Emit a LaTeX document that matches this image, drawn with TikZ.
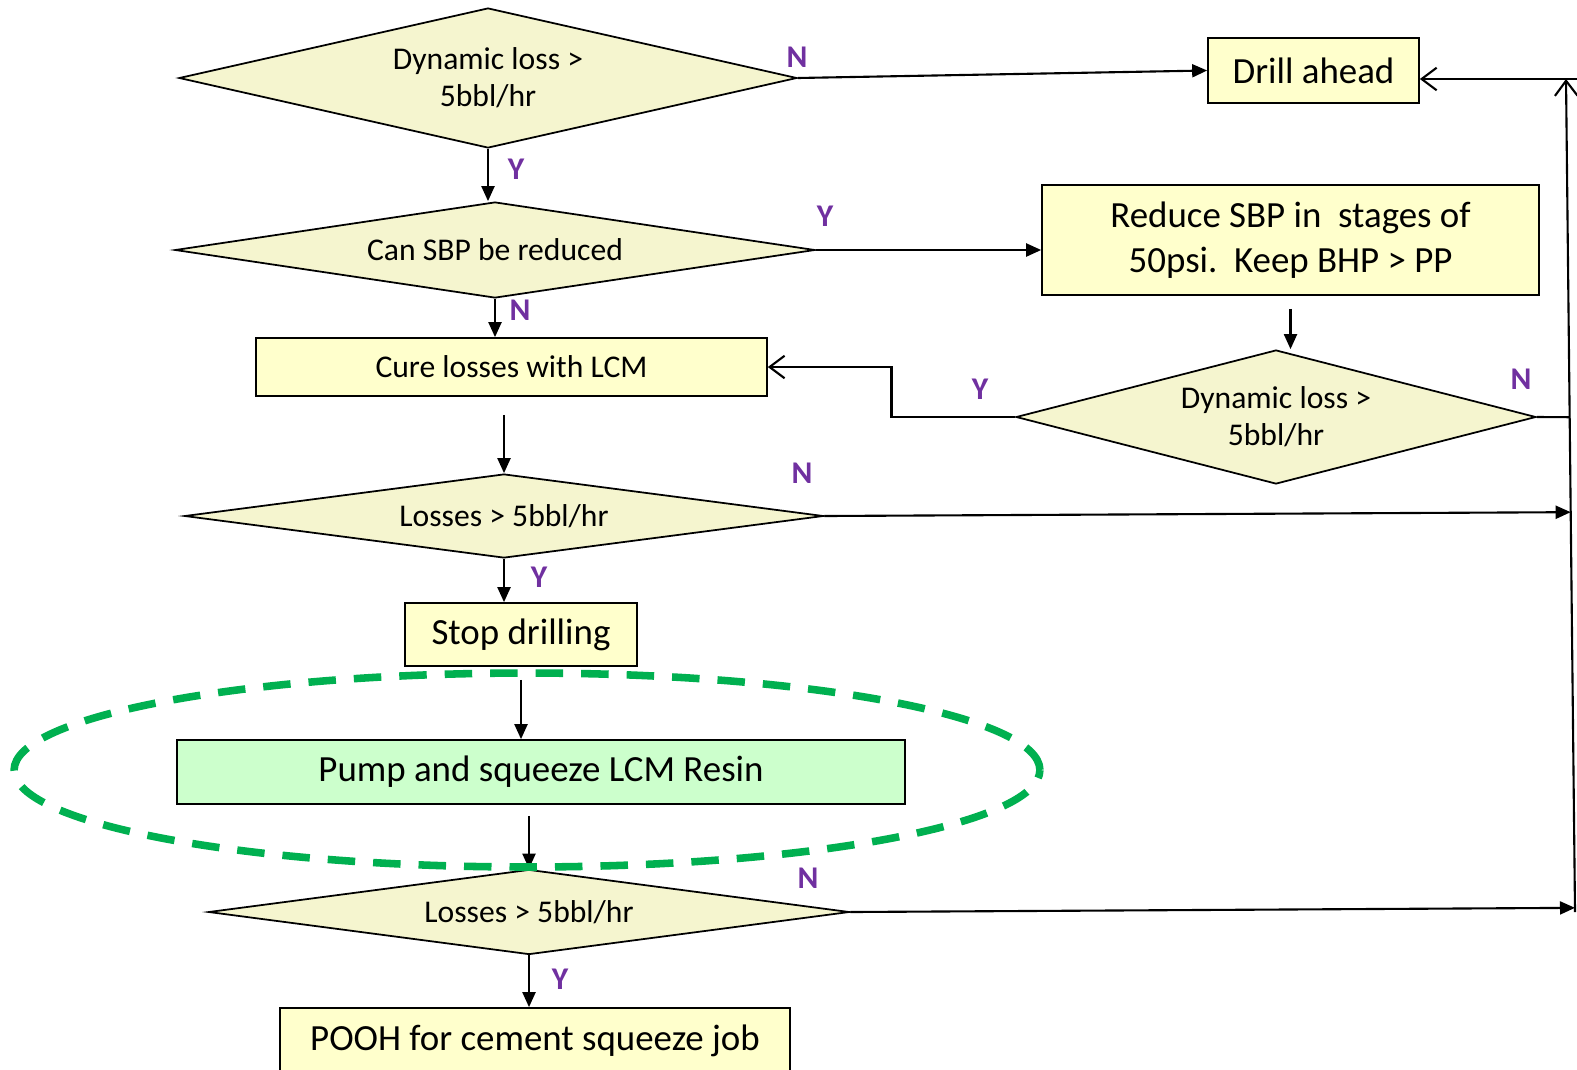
\documentclass[tikz,border=0pt]{standalone}
\usepackage{fontspec}
\setmainfont{Carlito}
\usetikzlibrary{shapes.geometric,arrows.meta,calc}
\definecolor{flowpurple}{HTML}{7030A0}
\definecolor{ringgreen}{HTML}{00B050}
\definecolor{boxyellow}{HTML}{FFFFCC}
\definecolor{diamondyellow}{RGB}{245,245,207}
\definecolor{boxgreen}{HTML}{CCFFCC}
\begin{document}
\begin{tikzpicture}[x=0.02cm,y=-0.02cm]
        \tikzstyle{decision_style} = [diamond,draw=black,fill=diamondyellow,line width=1pt,inner sep=0pt,align=center,font=\fontsize{18}{21}\selectfont]
        \tikzstyle{box_style} = [rectangle,draw=black,fill=boxyellow,line width=1pt,inner sep=0pt,align=center,font=\fontsize{21}{25.5}\selectfont]
        \tikzstyle{label_style} = [text=flowpurple,font=\fontsize{18}{20}\selectfont\bfseries]
        \tikzstyle{arrow_style} = [draw,line width=1.2pt,-{Triangle[length=0.3cm,width=0.26cm]}]
        \tikzstyle{open_arrow_style} = [draw,line width=1.2pt,-{Straight Barb[length=0.3cm,width=0.45cm]}]
        \useasboundingbox (0,0) rectangle (1577,1069);

        % decisions
        \node[decision_style,minimum width=12.36cm,minimum height=2.8cm,aspect=4.4] (dyn1) at (488,78) {Dynamic loss >\\5bbl/hr};
        \node[decision_style,minimum width=12.8cm,minimum height=1.92cm,aspect=6.7] (sbp) at (495,250) {Can SBP be reduced};
        \node[decision_style,minimum width=10.4cm,minimum height=2.68cm,aspect=3.9] (dyn2) at (1276,417) {Dynamic loss >\\5bbl/hr};
        \node[decision_style,minimum width=12.78cm,minimum height=1.68cm,aspect=7.6] (loss1) at (504,516) {Losses > 5bbl/hr};
        \node[decision_style,minimum width=12.82cm,minimum height=1.7cm,aspect=7.5] (loss2) at (529,912) {Losses > 5bbl/hr};

        % actions
        \node[box_style,minimum width=4.22cm,minimum height=1.3cm] (drill) at (1313.5,70.5) {Drill ahead};
        \node[box_style,minimum width=9.94cm,minimum height=2.2cm] (reduce) at (1290.5,240) {Reduce SBP in\ \ stages of\\50psi.\ \ Keep BHP > PP};
        \node[box_style,minimum width=10.22cm,minimum height=1.16cm,font=\fontsize{18}{21}\selectfont] (cure) at (511.5,367) {Cure losses with LCM};
        \node[box_style,minimum width=4.64cm,minimum height=1.26cm] (stop) at (521,634.5) {Stop drilling};
        \node[box_style,fill=boxgreen,minimum width=14.56cm,minimum height=1.28cm] (pump) at (541,772) {Pump and squeeze LCM Resin};
        \node[box_style,minimum width=10.2cm,minimum height=1.32cm] (pooh) at (535,1041) {POOH for cement squeeze job};

        \coordinate (top_corner) at (1566,79);
        \coordinate (bottom_corner) at (1575,912);
        \coordinate (top_right) at (1577,79);
        \coordinate (join_dyn2) at ($(top_corner)!0.406!(bottom_corner)$);
        \coordinate (join_loss1) at ($(top_corner)!0.52!(bottom_corner)$);
        \coordinate (join_loss2) at ($(top_corner)!0.995!(bottom_corner)$);

        % connectors
        \draw[arrow_style] (dyn1.east) -- (drill.west);
        \draw[arrow_style] (dyn1.south) -- (dyn1.south |- sbp.north);
        \draw[arrow_style] (sbp.east) -- (sbp.east -| reduce.west);
        \draw[arrow_style] (sbp.south) -- (sbp.south |- cure.north);
        \draw[arrow_style] ($(reduce.south)+(0,13)$) -- (reduce.south |- dyn2.north);
        \draw[open_arrow_style] (dyn2.west) -| ($(cure.east)!.5!(dyn2.west)$) |- (cure.east);
        \draw[line width=1.2pt] (dyn2.east) -- (join_dyn2);
        \draw[arrow_style] ($(loss1.north |- cure.south)+(0,18)$) -- (loss1.north);
        \draw[arrow_style] (loss1.east) -- (join_loss1);
        \draw[arrow_style] (loss1.south) -- (loss1.south |- stop.north);
        \draw[arrow_style] ($(stop.south)+(0,13)$) -- (stop.south |- pump.north);
        \draw[arrow_style] ($(pump.south -| loss2.north)+(0,11)$) -- (loss2.north);
        \draw[arrow_style] (loss2.east) -- (join_loss2);
        \draw[arrow_style] (loss2.south) -- (loss2.south |- pooh.north);
        \draw[open_arrow_style] (bottom_corner) -- (top_corner);
        \draw[open_arrow_style] (top_right) -- (top_right -| drill.east);

        % labels
        \node[label_style] (lbl_n1) at (797,57) {N};
        \node[label_style] (lbl_y1) at (516,169) {Y};
        \node[label_style] (lbl_y2) at (825,216) {Y};
        \node[label_style] (lbl_n2) at (520,310) {N};
        \node[label_style] (lbl_y3) at (980,389) {Y};
        \node[label_style] (lbl_n3) at (1521,379) {N};
        \node[label_style] (lbl_n4) at (802,473) {N};
        \node[label_style] (lbl_y4) at (539,577) {Y};
        \node[label_style] (lbl_n5) at (808,878) {N};
        \node[label_style] (lbl_y5) at (560,979) {Y};

        \draw[ringgreen,line width=4.3pt,dash pattern=on 0.55cm off 0.36cm] (527,770) ellipse [x radius=10.26cm,y radius=1.94cm];
      \end{tikzpicture}
\end{document}
